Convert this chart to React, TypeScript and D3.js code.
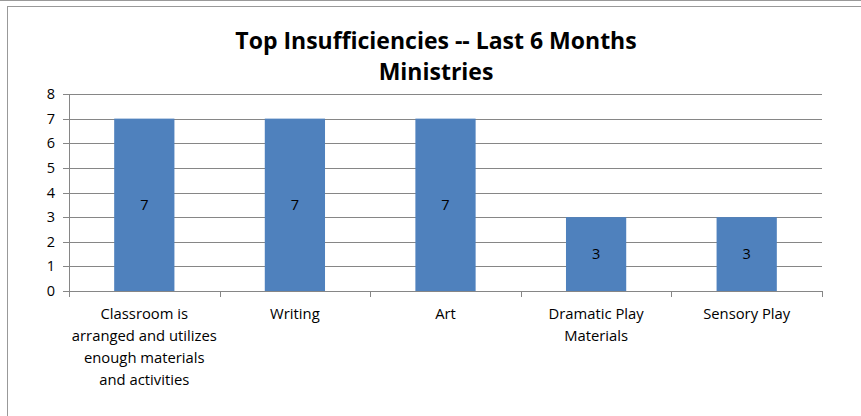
import React from "react";
import * as d3 from "d3";

const categories = [
  "Classroom is arranged and utilizes enough materials and activities",
  "Writing",
  "Art",
  "Dramatic Play Materials",
  "Sensory Play",
];
const categoryLines = [
  ["Classroom is", "arranged and utilizes", "enough materials", "and activities"],
  ["Writing"],
  ["Art"],
  ["Dramatic Play", "Materials"],
  ["Sensory Play"],
];
const values = [7, 7, 7, 3, 3];
const yTicks = [0, 1, 2, 3, 4, 5, 6, 7, 8];
const titleLines = ["Top Insufficiencies -- Last 6 Months", "Ministries"];

export default function App() {
  const width = 861;
  const height = 416;
  const left = 69;
  const right = 822;
  const top = 94;
  const bottom = 291;
  const font = "'Open Sans', 'Liberation Sans', sans-serif";

  const x = d3.scaleBand().domain(categories).range([left, right]).paddingInner(0).paddingOuter(0);
  const y = d3.scaleLinear().domain([0, 8]).range([bottom, top]);
  const barW = x.bandwidth() * 0.4;
  const grid = "#868686";

  return (
    <svg width={width} height={height} style={{ position: "absolute", left: 0, top: 0, background: "#fff" }}>
      {/* frame */}
      <line x1={0} x2={width} y1={0.5} y2={0.5} stroke="#999" />
      <line x1={7} x2={width} y1={6.5} y2={6.5} stroke="#999" />
      <line x1={7.5} x2={7.5} y1={6} y2={height} stroke="#999" />

      {/* title */}
      {titleLines.map((t, i) => (
        <text key={t} x={436} y={49 + i * 31} textAnchor="middle" fontFamily={font} fontWeight="bold" fontSize={23} fill="#000">
          {t}
        </text>
      ))}

      {/* gridlines and y ticks */}
      {yTicks.map((t) => (
        <g key={t}>
          <line x1={left - 6} x2={right} y1={Math.round(y(t)) + 0.5} y2={Math.round(y(t)) + 0.5} stroke={grid} />
          <text x={left - 14} y={y(t)} dy="0.35em" textAnchor="end" fontFamily={font} fontSize={14.5} fill="#000">
            {t}
          </text>
        </g>
      ))}
      <line x1={left + 0.5} x2={left + 0.5} y1={top} y2={bottom} stroke={grid} />

      {/* category ticks */}
      {d3.range(categories.length + 1).map((i) => {
        const xp = Math.round(left + i * x.step()) + 0.5;
        return <line key={i} x1={xp} x2={xp} y1={bottom} y2={bottom + 6} stroke={grid} />;
      })}

      {/* bars */}
      {categories.map((c, i) => {
        const cx = (x(c) as number) + x.bandwidth() / 2;
        return (
          <g key={c}>
            <rect x={cx - barW / 2} y={y(values[i])} width={barW} height={y(0) - y(values[i])} fill="#4F81BD" />
            <text x={cx} y={(y(values[i]) + y(0)) / 2} dy="0.35em" textAnchor="middle" fontFamily={font} fontSize={14.5} fill="#000">
              {values[i]}
            </text>
            {categoryLines[i].map((l, j) => (
              <text key={l} x={cx} y={319 + j * 22} textAnchor="middle" fontFamily={font} fontSize={14.8} fill="#000">
                {l}
              </text>
            ))}
          </g>
        );
      })}
    </svg>
  );
}
